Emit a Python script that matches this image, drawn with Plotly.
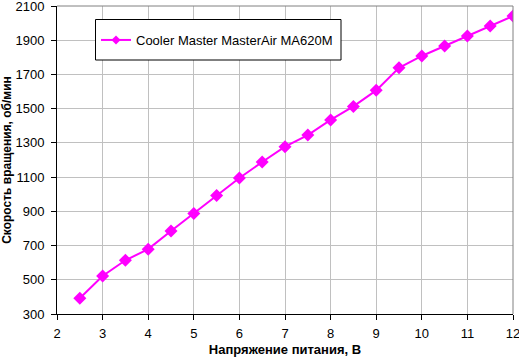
import plotly.graph_objects as go

voltage = [2.5, 3, 3.5, 4, 4.5, 5, 5.5, 6, 6.5, 7, 7.5, 8, 8.5, 9, 9.5, 10, 10.5, 11, 11.5, 12]
rpm = [392, 522, 614, 679, 785, 888, 993, 1095, 1188, 1278, 1346, 1434, 1513, 1607, 1739, 1808, 1866, 1925, 1983, 2041]
series_name = "Cooler Master MasterAir MA620M"
x_title = "Напряжение питания, В"
y_title = "Скорость вращения, об/мин"

MAG = "#FF00FF"
fig = go.Figure()
fig.add_trace(go.Scatter(
    x=voltage, y=rpm, mode="lines+markers", name=series_name, showlegend=False,
    line=dict(color=MAG, width=2),
    marker=dict(symbol="diamond", size=10, color=MAG),
))
# legend entry (smaller marker, as in the reference legend)
fig.add_trace(go.Scatter(
    x=[None], y=[None], mode="lines+markers", name=series_name, showlegend=True,
    line=dict(color=MAG, width=2),
    marker=dict(symbol="diamond", size=7, color=MAG),
))

W, H = 519, 357
L, R, T, B = 57, 6, 6, 43
pw, ph = W - L - R, H - T - B

def px_x(p):
    return (p - L) / pw

def px_y(p):
    return (H - B - p) / ph

fig.update_layout(
    width=W, height=H,
    margin=dict(l=L, r=R, t=T, b=B),
    paper_bgcolor="white", plot_bgcolor="white",
    font=dict(family="Liberation Sans, Arial, sans-serif", size=13, color="black"),
    showlegend=True,
    legend=dict(
        x=px_x(96), y=px_y(40), xanchor="left", yanchor="middle",
        bgcolor="rgba(0,0,0,0)", borderwidth=0,
        font=dict(size=13), itemwidth=30,
    ),
    xaxis=dict(
        range=[2, 12], tickmode="linear", dtick=1, tick0=2,
        showgrid=True, gridcolor="#C0C0C0", gridwidth=1,
        showline=True, linecolor="black", linewidth=1,
        ticks="outside", ticklen=5, tickcolor="black",
        ticklabeloverflow="allow", ticklabelstandoff=2,
        zeroline=False, automargin=False,
        title=dict(text="<b>" + x_title + "</b>", standoff=6, font=dict(size=13)),
    ),
    yaxis=dict(
        range=[300, 2100], tickmode="linear", dtick=200, tick0=300,
        showgrid=True, gridcolor="#C0C0C0", gridwidth=1,
        showline=True, linecolor="black", linewidth=1,
        ticks="outside", ticklen=5, tickcolor="black",
        ticklabeloverflow="allow", ticklabelstandoff=4,
        zeroline=False, automargin=False,
        title=dict(text="<b>" + y_title + "</b>", standoff=6, font=dict(size=12)),
    ),
    shapes=[
        dict(type="line", xref="paper", yref="paper", x0=0, x1=1, y0=1, y1=1,
             line=dict(color="#808080", width=1)),
        dict(type="line", xref="paper", yref="paper", x0=1, x1=1, y0=0, y1=1,
             line=dict(color="#808080", width=1)),
        dict(type="rect", xref="paper", yref="paper", layer="above",
             x0=px_x(95.5), x1=px_x(341), y0=px_y(19.5), y1=px_y(60),
             fillcolor="white", line=dict(color="black", width=1)),
    ],
)

fig.write_html("out.html")
